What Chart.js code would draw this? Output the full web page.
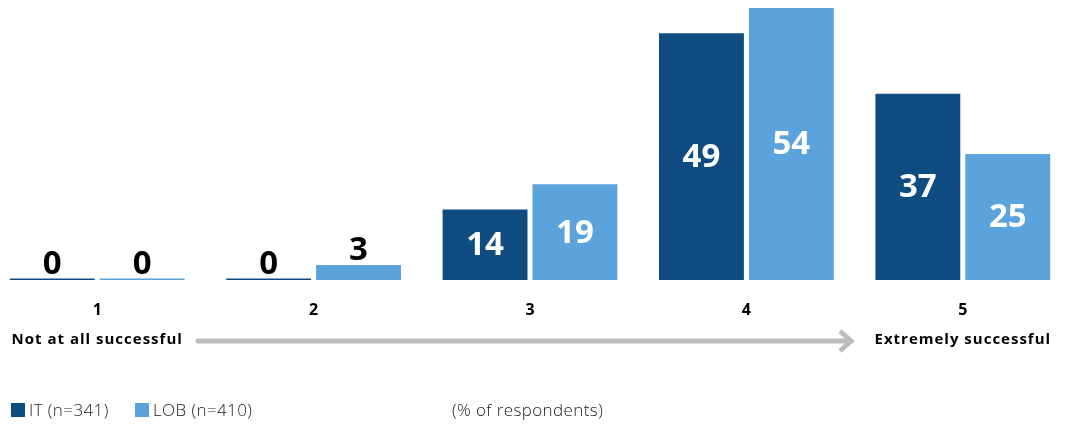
<!DOCTYPE html>
<html>
<head>
<meta charset="utf-8">
<script src="https://cdn.jsdelivr.net/npm/chart.js@4.4.1/dist/chart.umd.min.js"></script>
<style>
  html, body { margin: 0; padding: 0; background: #fff; overflow: hidden; }
  #wrap { position: relative; width: 1071px; height: 424px; }
  #box { position: absolute; left: -11px; top: 0; width: 1082px; height: 424px; }
</style>
</head>
<body>
<div id="wrap"><div id="box"><canvas id="myPlot"></canvas></div></div>
<script>
const categories = ['1', '2', '3', '4', '5'];
const itValues = [0, 0, 14, 49, 37];
const lobValues = [0, 3, 19, 54, 25];
const seriesNames = ['IT (n=341)', 'LOB (n=410)'];
const endLabels = ['Not at all successful', 'Extremely successful'];
const unitNote = '(% of respondents)';

const darkBlue = '#0f4c81';
const lightBlue = '#5ba3dc';
const fontFam = '"Open Sans", "Liberation Sans", sans-serif';

// labels + arrow + legend drawn on top
const extras = {
  id: 'extras',
  afterDatasetsDraw(chart) {
    const ctx = chart.ctx;
    const x = chart.scales.x;
    const y = chart.scales.y;
    ctx.save();
    chart.data.datasets.forEach((ds, di) => {
      const meta = chart.getDatasetMeta(di);
      meta.data.forEach((bar, i) => {
        const v = ds.data[i];
        const h = y.getPixelForValue(0) - y.getPixelForValue(v);
        ctx.textAlign = 'center';
        ctx.textBaseline = 'middle';
        ctx.font = 'bold 33px ' + fontFam;
        if (h > 40) {
          ctx.fillStyle = '#fff';
          ctx.fillText(String(v), bar.x, (bar.y + bar.base) / 2 + 1);
        } else {
          ctx.fillStyle = '#000';
          ctx.fillText(String(v), bar.x, bar.y - 14);
        }
      });
    });

    // category numbers
    ctx.fillStyle = '#000';
    ctx.font = 'bold 16px ' + fontFam;
    ctx.textAlign = 'center';
    ctx.textBaseline = 'middle';
    categories.forEach((c, i) => ctx.fillText(c, x.getPixelForValue(i), 310));

    // end labels
    ctx.font = 'bold 15px ' + fontFam;
    ctx.letterSpacing = '1px';
    ctx.fillText(endLabels[0], x.getPixelForValue(0), 340);
    ctx.fillText(endLabels[1], x.getPixelForValue(4), 340);
    ctx.letterSpacing = '0px';

    // arrow
    const ax0 = 209, ax1 = 862, ay = 341;
    ctx.strokeStyle = '#bdbdbd';
    ctx.lineWidth = 5;
    ctx.lineCap = 'round';
    ctx.beginPath();
    ctx.moveTo(ax0, ay);
    ctx.lineTo(ax1 - 2, ay);
    ctx.stroke();
    ctx.lineCap = 'butt';
    ctx.lineJoin = 'miter';
    ctx.beginPath();
    ctx.moveTo(ax1 - 11, ay - 10);
    ctx.lineTo(ax1, ay);
    ctx.lineTo(ax1 - 11, ay + 10);
    ctx.stroke();

    // legend
    ctx.textAlign = 'left';
    ctx.font = '300 17px ' + fontFam;
    ctx.letterSpacing = '0.4px';
    const lx = [22, 146];
    [darkBlue, lightBlue].forEach((col, i) => {
      ctx.fillStyle = col;
      ctx.fillRect(lx[i], 403, 14, 14);
      ctx.fillStyle = '#222';
      ctx.fillText(seriesNames[i], lx[i] + 18, 411);
    });
    ctx.fillText(unitNote, 463, 411);
    ctx.restore();
  }
};

new Chart(document.getElementById('myPlot').getContext('2d'), {
  type: 'bar',
  data: {
    labels: categories,
    datasets: [
      { label: seriesNames[0], data: itValues, backgroundColor: darkBlue, minBarLength: 1.5 },
      { label: seriesNames[1], data: lobValues, backgroundColor: lightBlue, minBarLength: 1.5 }
    ]
  },
  options: {
    responsive: true,
    maintainAspectRatio: false,
    animation: false,
    devicePixelRatio: 1,
    categoryPercentage: 0.831,
    barPercentage: 0.944,
    layout: { padding: { top: 8, bottom: 144, left: 0, right: 0 } },
    plugins: { legend: { display: false }, tooltip: { enabled: false } },
    scales: {
      x: { display: false, grid: { display: false } },
      y: { display: false, min: 0, max: 54, grid: { display: false } }
    }
  },
  plugins: [extras]
});
</script>
</body>
</html>
